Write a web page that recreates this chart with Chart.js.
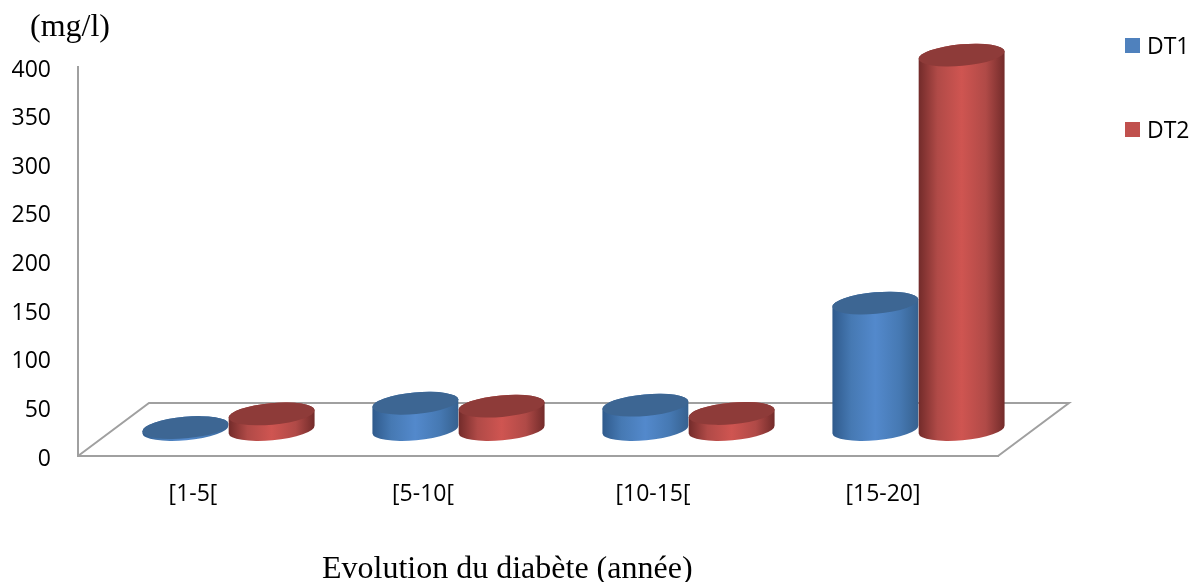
<!DOCTYPE html>
<html>
<head>
<meta charset="utf-8">
<style>
  html, body { margin: 0; background: #fff; }
  canvas { display: block; }
</style>
<script src="https://cdn.jsdelivr.net/npm/chart.js@4/dist/chart.umd.min.js"></script>
</head>
<body>
<canvas id="chart" width="1202" height="582"></canvas>
<script>
const categories = ["[1-5[", "[5-10[", "[10-15[", "[15-20]"];
const dt1 = [2, 27, 25, 130];
const dt2 = [16, 24, 16.5, 385];
const yTicks = [0, 50, 100, 150, 200, 250, 300, 350, 400];
const unitLabel = "(mg/l)";
const xLabel = "Evolution du diabète (année)";

const BLUE = "#4f81bd", RED = "#c0504d";
const SHADES = {
  [BLUE]: { top: "#3d6693", rim: ["#2f5a8c", "#4679b3", "#5389cc", "#4679b3", "#36618f"] },
  [RED]: { top: "#8e3b39", rim: ["#722b2a", "#b04a47", "#cf5551", "#b04a47", "#722b2a"] }
};
const RIM_STOPS = [0, 0.22, 0.5, 0.78, 1];
const DEPTH_X = 71, DEPTH_Y = 53; // floor depth
const TILT = -0.09, RY = 10.8;
const AXIS_GREY = "#a0a0a0";
const TICK_FONT = { family: "Open Sans", size: 23 };

// bars become tilted cylinders standing mid-way on the floor
Chart.BarElement.prototype.draw = function (ctx) {
  const { x, y, base, width } = this.getProps(["x", "y", "base", "width"]);
  const shade = SHADES[this.options.backgroundColor];
  const cx = x + DEPTH_X / 2, top = y - DEPTH_Y / 2, bottom = base - DEPTH_Y / 2;
  const rx = width / 2;
  const g = ctx.createLinearGradient(cx - rx, 0, cx + rx, 0);
  shade.rim.forEach(function (c, i) { g.addColorStop(RIM_STOPS[i], c); });
  ctx.save();
  ctx.fillStyle = g;
  ctx.beginPath();
  ctx.ellipse(cx, bottom, rx, RY, TILT, Math.PI, 0, true);
  ctx.ellipse(cx, top, rx, RY, TILT, 0, Math.PI, true);
  ctx.closePath();
  ctx.fill();
  ctx.fillStyle = shade.top;
  ctx.beginPath();
  ctx.ellipse(cx, top, rx, RY, TILT, 0, Math.PI * 2);
  ctx.fill();
  ctx.restore();
};

const frame = {
  id: "frame",
  beforeDatasetsDraw(chart) {
    const c = chart.ctx, a = chart.chartArea;
    c.save();
    c.strokeStyle = AXIS_GREY;
    c.lineWidth = 2;
    c.beginPath();
    c.moveTo(a.left, a.bottom);
    c.lineTo(a.left + DEPTH_X, a.bottom - DEPTH_Y);
    c.lineTo(a.right + DEPTH_X, a.bottom - DEPTH_Y);
    c.lineTo(a.right, a.bottom);
    c.stroke();
    c.restore();
    // DT2 has to land on top of DT1, the default order is the reverse
    chart.getSortedVisibleDatasetMetas().forEach(function (m) { m.controller.draw(); });
    return false;
  },
  afterDraw(chart) {
    const c = chart.ctx;
    c.save();
    c.fillStyle = "#000";
    c.textBaseline = "middle";
    c.font = "32px 'Liberation Serif'";
    c.fillText(unitLabel, 30, 28);
    c.fillText(xLabel, 322, 570);
    c.font = "23px 'Open Sans'";
    chart.data.datasets.forEach(function (ds, i) {
      const y = 45.5 + i * 84;
      c.fillStyle = ds.backgroundColor;
      c.fillRect(1125, y - 7.5, 15, 15);
      c.fillStyle = "#000";
      c.fillText(ds.label, 1147, y + 2);
    });
    c.restore();
  }
};

new Chart(document.getElementById("chart"), {
  type: "bar",
  data: {
    labels: categories,
    datasets: [
      { label: "DT1", data: dt1, backgroundColor: BLUE },
      { label: "DT2", data: dt2, backgroundColor: RED }
    ]
  },
  options: {
    responsive: false,
    animation: false,
    layout: { padding: { top: 67, right: 204 } },
    categoryPercentage: 0.75,
    barPercentage: 1,
    plugins: { legend: { display: false }, tooltip: { enabled: false } },
    scales: {
      x: {
        grid: { display: false },
        border: { color: AXIS_GREY, width: 2 },
        ticks: { color: "#000", font: TICK_FONT, padding: 17 },
        afterFit(s) { s.height = 126; }
      },
      y: {
        min: 0,
        max: 400,
        afterBuildTicks(s) { s.ticks = yTicks.map(function (v) { return { value: v }; }); },
        grid: { display: false },
        border: { color: AXIS_GREY, width: 2 },
        ticks: { color: "#000", font: TICK_FONT, padding: 19, labelOffset: 3 },
        afterFit(s) { s.width = 78; }
      }
    }
  },
  plugins: [frame]
});
</script>
</body>
</html>
